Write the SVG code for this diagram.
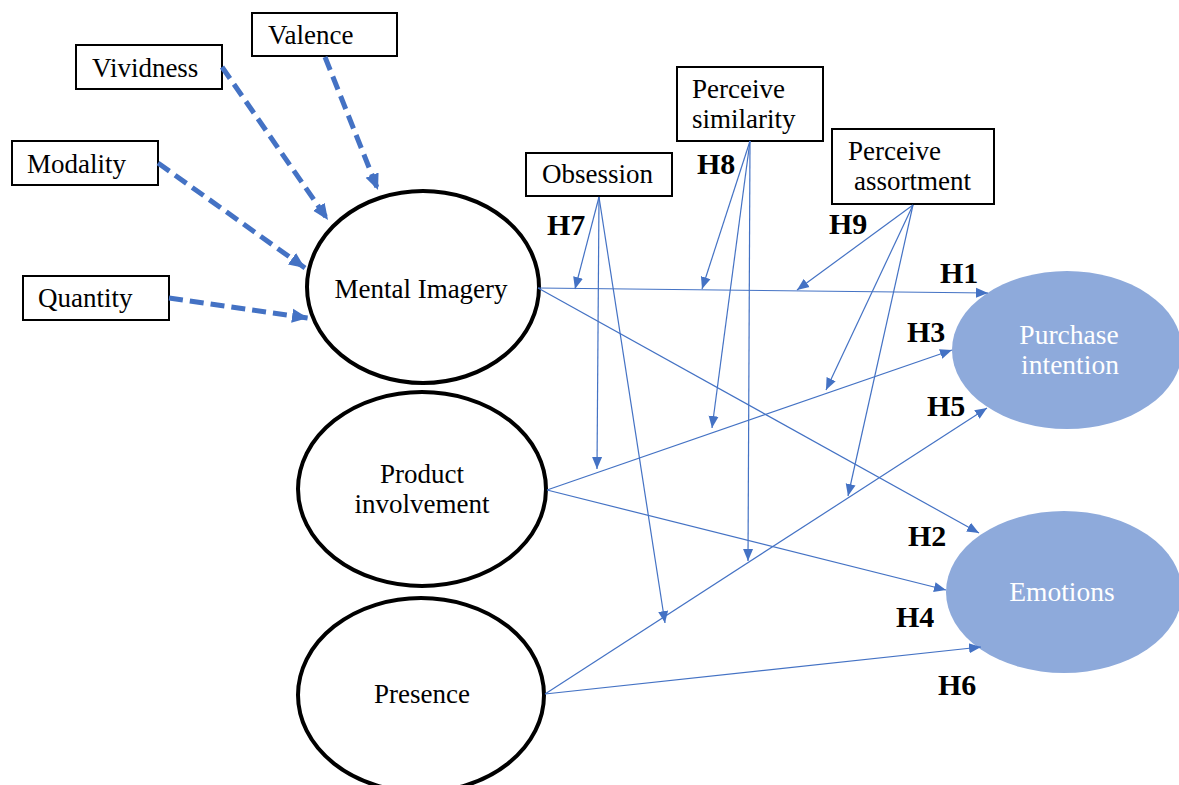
<svg xmlns="http://www.w3.org/2000/svg" width="1179" height="785" viewBox="0 0 1179 785">
<style>
.box{fill:#fff;stroke:#000;stroke-width:2}
.lat{fill:#fff;stroke:#000;stroke-width:4}
.dv{fill:#8EAADB;stroke:none}
.t{font-family:"Liberation Serif","Times New Roman",serif;font-size:27px;fill:#000}
.tw{font-family:"Liberation Serif","Times New Roman",serif;font-size:27.5px;fill:#fff;text-anchor:middle}
.tc{text-anchor:middle}
.h{font-family:"Liberation Serif","Times New Roman",serif;font-size:30px;font-weight:bold;fill:#000}
.dash{fill:none;stroke:#4472C4;stroke-width:5;stroke-dasharray:14 7;marker-end:url(#big)}
.thin{fill:none;stroke:#4472C4;stroke-width:1.2;marker-end:url(#small)}
</style>
<defs>
<marker id="big" markerUnits="userSpaceOnUse" markerWidth="16" markerHeight="16" viewBox="0 0 16 16" refX="16" refY="8" orient="auto"><path d="M0,1 L16,8 L0,15 Z" fill="#4472C4"/></marker>
<marker id="small" markerUnits="userSpaceOnUse" markerWidth="12" markerHeight="12" viewBox="0 0 12 12" refX="12" refY="6" orient="auto"><path d="M0,1 L12,6 L0,11 Z" fill="#4472C4"/></marker>
</defs>
<rect width="1179" height="785" fill="#fff"/>

<g id="valence"><rect class="box" x="252" y="13" width="145" height="43"/><text class="t" x="268" y="44">Valence</text></g>
<g id="vividness"><rect class="box" x="76" y="45" width="146" height="44"/><text class="t" x="92" y="77">Vividness</text></g>
<g id="modality"><rect class="box" x="12" y="141" width="146" height="44"/><text class="t" x="27" y="173">Modality</text></g>
<g id="quantity"><rect class="box" x="23" y="276" width="146" height="44"/><text class="t" x="38" y="307">Quantity</text></g>
<g id="obsession"><rect class="box" x="526" y="153" width="146" height="43"/><text class="t" x="542" y="183">Obsession</text></g>
<g id="similarity"><rect class="box" x="677" y="67" width="146" height="74"/><text class="t" x="692" y="98">Perceive</text><text class="t" x="692" y="128">similarity</text></g>
<g id="assortment"><rect class="box" x="832" y="129" width="162" height="75"/><text class="t" x="848" y="160">Perceive</text><text class="t" x="854" y="190">assortment</text></g>

<g id="mental-imagery"><ellipse class="lat" cx="423" cy="287" rx="116" ry="96"/><text class="t tc" x="421" y="298">Mental Imagery</text></g>
<g id="product-involvement"><ellipse class="lat" cx="422" cy="489" rx="124" ry="97"/><text class="t tc" x="422" y="483">Product</text><text class="t tc" x="422" y="513">involvement</text></g>
<g id="presence"><ellipse class="lat" cx="421" cy="695" rx="123" ry="97"/><text class="t tc" x="422" y="703">Presence</text></g>
<g id="purchase-intention"><ellipse class="dv" cx="1067" cy="350" rx="115" ry="79"/><text class="tw" x="1069" y="344">Purchase</text><text class="tw" x="1070" y="374">intention</text></g>
<g id="emotions"><ellipse class="dv" cx="1064" cy="592" rx="118" ry="81"/><text class="tw" x="1062" y="601">Emotions</text></g>

<g id="connectors">
<line class="dash" x1="325" y1="57" x2="378" y2="190"/>
<line class="dash" x1="222" y1="67" x2="328" y2="220"/>
<line class="dash" x1="158" y1="163" x2="305" y2="268"/>
<line class="dash" x1="169" y1="298" x2="308" y2="318"/>

<line class="thin" x1="538" y1="288" x2="988" y2="293"/>
<line class="thin" x1="538" y1="288" x2="979" y2="533"/>
<line class="thin" x1="547" y1="490" x2="952" y2="350"/>
<line class="thin" x1="547" y1="490" x2="946" y2="590"/>
<line class="thin" x1="545" y1="694" x2="987" y2="408"/>
<line class="thin" x1="545" y1="694" x2="981" y2="647"/>

<line class="thin" x1="599" y1="197" x2="575" y2="289"/>
<line class="thin" x1="599" y1="197" x2="597" y2="469"/>
<line class="thin" x1="599" y1="197" x2="665" y2="623"/>
<line class="thin" x1="750" y1="141" x2="702" y2="289"/>
<line class="thin" x1="750" y1="141" x2="712" y2="428"/>
<line class="thin" x1="750" y1="141" x2="748" y2="561"/>
<line class="thin" x1="913" y1="205" x2="797" y2="290"/>
<line class="thin" x1="913" y1="205" x2="826" y2="390"/>
<line class="thin" x1="913" y1="205" x2="848" y2="496"/>
</g>

<g id="labels">
<text class="h" x="547" y="235">H7</text>
<text class="h" x="697" y="174">H8</text>
<text class="h" x="829" y="234">H9</text>
<text class="h" x="940" y="283">H1</text>
<text class="h" x="907" y="342">H3</text>
<text class="h" x="927" y="416">H5</text>
<text class="h" x="908" y="546">H2</text>
<text class="h" x="896" y="627">H4</text>
<text class="h" x="938" y="695">H6</text>
</g>
</svg>
